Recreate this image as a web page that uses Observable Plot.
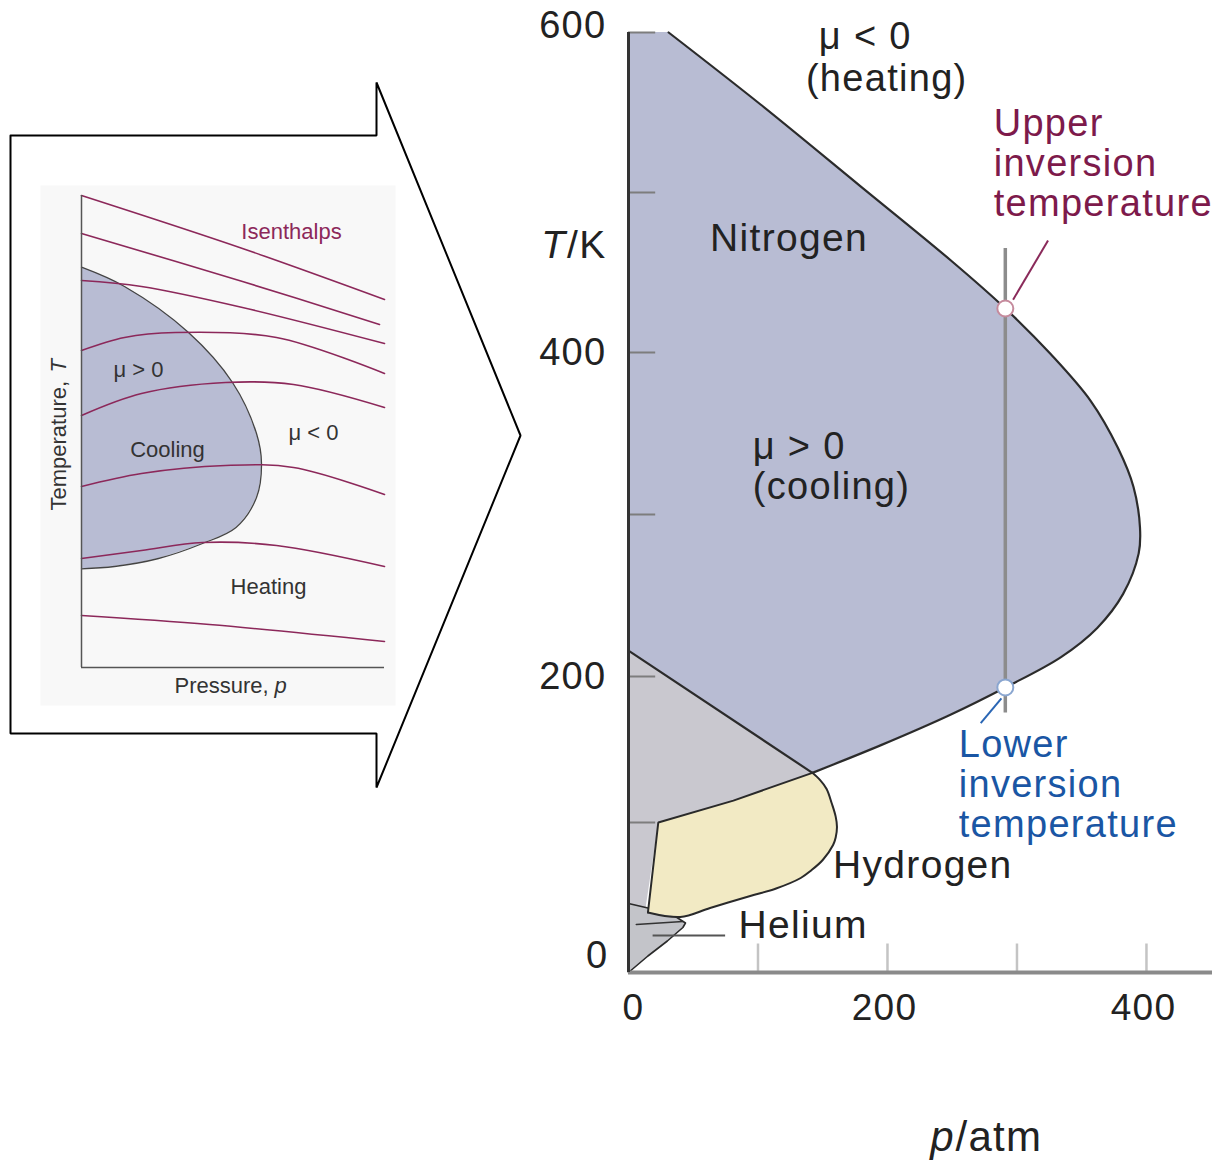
<!DOCTYPE html>
<html><head><meta charset="utf-8">
<script src="https://cdn.jsdelivr.net/npm/d3@7"></script>
<script src="https://cdn.jsdelivr.net/npm/@observablehq/plot@0.6"></script>
<style>
body{margin:0;background:#fff;}
#wrap{position:relative;width:1218px;height:1162px;overflow:hidden;background:#fff;}
#wrap svg{position:absolute;left:0;top:0;overflow:visible;}
</style></head><body><div id="wrap"></div>
<script>
// ---------- main chart data (p / atm, T / K) ----------
const tempTicks = [0, 100, 200, 300, 400, 500, 600];
const tempTickLabels = [600, 400, 200, 0];
const pressureTicks = [100, 200, 300, 400];
const pressureTickLabels = [0, 200, 400];
const nitrogenCurve = [[31,600],[102,555],[179,504],[249,457.5],[291,427.5],[326,399],[357,370],[378,341],[390,317],[395,292],[394,276],[382,251],[362,230],[334,212],[291,192.5],[249,174],[195,153],[142,134]];
const nitrogenLowerEdge = [[142,134],[0,216]];
const greyRegion = [[0,216],[142,134],[81,115],[23,100],[13,42],[0,46],[0,0]];
const hydrogenCurve = [[142,134],[148,129],[153,123],[157,113],[160,104],[161,97],[160,90],[158,85],[150,75],[141,68],[133,63],[114,56],[94,51],[63,43],[40,37],[15,40]];
const hydrogenEdges = [[15,40],[23,100],[81,115],[142,134]];
const heliumRegion = [[0,46],[15,43],[35,38],[44,33],[42,30],[30,21],[15,11],[0,0],[0,46]];
const heliumInner = [[6,32],[42,34]];
const inversionPressure = 291;
const inversionPoints = [{p:291, T:427.5, kind:"upper"}, {p:291, T:192.5, kind:"lower"}];
const leaderLines = [{p1:297,T1:433,p2:324,T2:470,kind:"upper"},{p1:288,T1:185,p2:272,T2:168,kind:"lower"}];

// ---------- inset (schematic) data, arbitrary units ----------
const coolingRegion = [[0,98.7],[33,101],[77,109],[121,124],[154.5,140],[175,170],[180,204],[175,234],[151,285],[107,335],[43,381],[0,400.3]];
const isenthalps = [
  [[0,472],[161,419],[303,368]],
  [[0,434],[161,386],[298,343]],
  [[0,387],[60,381],[161,360],[303,324]],
  [[0,317],[43,330],[94,335],[195,330],[303,294]],
  [[0,252],[60,274],[144,285],[212,283],[303,260]],
  [[0,181],[60,194],[144,202],[212,200],[303,173]],
  [[0,109],[60,117],[121,125],[195,122],[303,101]],
  [[0,52],[128,43],[303,26]]
];
const arrowOutline = [[-71,532],[295,532],[295,585],[439,232],[295,-120],[295,-66],[-71,-66],[-71,532]];

const FONT = '"Liberation Sans", Arial, Helvetica, sans-serif';
const BLUE = "#b8bcd3", GREY = "#c9c8cf", YELLOW = "#f2eac4", HELIUM = "#c3c4c9";
const CRIMSON = "#7d1a4b", NAVY = "#1a56a4", INK = "#222";
const FS = 38;

// the printed temperature axis is hand-drawn and not evenly spaced: warp T onto its tick rows
const tickRows = [972, 822, 676, 514, 352, 192, 32];
const warpT = d3.scaleLinear().domain(tempTicks).range(tickRows);

const P = d => d[0], TT = d => d[1];
const main = Plot.plot({
  width: 1218, height: 1162,
  style: {fontFamily: FONT, background: "transparent", overflow: "visible", letterSpacing: "1.3px"},
  x: {domain: [0, 451], range: [628, 1212], axis: null},
  y: {type: "linear", transform: t => warpT(t), domain: [972, 32], range: [972, 32], axis: null},
  marks: [
    Plot.areaX(nitrogenCurve, {y: TT, x1: 0, x2: P, fill: BLUE, curve: "catmull-rom"}),
    Plot.line(greyRegion, {x: P, y: TT, fill: GREY, stroke: "none"}),
    Plot.line(heliumRegion, {x: P, y: TT, fill: HELIUM, stroke: "#2a2a2a", strokeWidth: 1.6}),
    Plot.line(hydrogenCurve.concat(hydrogenEdges), {x: P, y: TT, fill: YELLOW, stroke: "none"}),
    Plot.line(hydrogenCurve, {x: P, y: TT, stroke: "#2a2a2a", strokeWidth: 2, curve: "catmull-rom"}),
    Plot.line(hydrogenEdges, {x: P, y: TT, stroke: "#2a2a2a", strokeWidth: 2, strokeLinejoin: "miter"}),
    Plot.line(heliumInner, {x: P, y: TT, stroke: "#333", strokeWidth: 1.5}),
    Plot.line(nitrogenCurve, {x: P, y: TT, stroke: "#2b2b2b", strokeWidth: 2.2, curve: "catmull-rom"}),
    Plot.line(nitrogenLowerEdge, {x: P, y: TT, stroke: "#2b2b2b", strokeWidth: 2.2}),
    Plot.ruleY(tempTicks.filter(t => t > 0), {x1: 0, x2: 21, stroke: "#7d7d7d", strokeWidth: 2}),
    Plot.ruleX(pressureTicks, {y1: 0, y2: 19, stroke: "#c4c4c4", strokeWidth: 2.5}),
    Plot.ruleY([0], {x1: 0, x2: 451, stroke: "#8a8a8a", strokeWidth: 4}),
    Plot.ruleX([0], {y1: 0, y2: 600, stroke: "#333", strokeWidth: 3}),
    Plot.ruleX([inversionPressure], {y1: 175, y2: 465, stroke: "#8c8c8c", strokeWidth: 3.5}),
    Plot.link(leaderLines, {x1: "p1", y1: "T1", x2: "p2", y2: "T2", stroke: d => d.kind === "upper" ? "#8a2a5a" : "#2a66b4", strokeWidth: 2}),
    Plot.dot(inversionPoints, {x: "p", y: "T", r: 8, fill: "white", stroke: d => d.kind === "upper" ? "#c58a9c" : "#8aa6d0", strokeWidth: 2}),
    Plot.ruleY([24.7], {x1: 19, x2: 75, stroke: "#555", strokeWidth: 2}),
    // tick labels
    Plot.text(tempTickLabels.filter(d => d === 600), {x: 0, y: d => d, text: d => String(d), textAnchor: "end", dx: -22, dy: -7, fontSize: 38, fill: INK}),
    Plot.text(tempTickLabels.filter(d => d === 400 || d === 200), {x: 0, y: d => d, text: d => String(d), textAnchor: "end", dx: -22, fontSize: 38, fill: INK}),
    Plot.text(tempTickLabels.filter(d => d === 0), {x: 0, y: d => d, text: d => String(d), textAnchor: "end", dx: -20, dy: -17, fontSize: 38, fill: INK}),
    Plot.text(pressureTickLabels.filter(d => d === 0), {x: d => d, y: -24, text: d => String(d), dx: 5, fontSize: 37, fill: INK}),
    Plot.text(pressureTickLabels.filter(d => d > 0), {x: d => d, y: -24, text: d => String(d), dx: -3, fontSize: 37, fill: INK}),
    // axis titles
    Plot.text(["T"], {x: -48, y: 467, textAnchor: "end", fontSize: 39, fontStyle: "italic", fill: INK}),
    Plot.text(["/K"], {x: -47.5, y: 467, textAnchor: "start", fontSize: 39, fill: INK}),
    Plot.text(["p"], {x: 252, y: -110, textAnchor: "end", fontSize: 42, fontStyle: "italic", fill: INK}),
    Plot.text(["/atm"], {x: 252.5, y: -110, textAnchor: "start", fontSize: 42, fill: INK}),
    // annotations
    Plot.text(["Nitrogen"], {x: 63, y: 481, textAnchor: "start", lineAnchor: "top", fontSize: 39, fill: INK}),
    Plot.text(["μ > 0\n(cooling)"], {x: 96, y: 330, textAnchor: "start", lineHeight: 1.05, fontSize: FS, fill: INK}),
    Plot.text(["μ < 0"], {x: 147, y: 597, textAnchor: "start", fontSize: FS, fill: INK}),
    Plot.text(["(heating)"], {x: 137, y: 571, textAnchor: "start", fontSize: FS, fill: INK}),
    Plot.text(["Upper\ninversion\ntemperature"], {x: 282, y: 553, textAnchor: "start", lineAnchor: "top", lineHeight: 1.05, fontSize: FS, fill: CRIMSON}),
    Plot.text(["Lower\ninversion\ntemperature"], {x: 255, y: 164, textAnchor: "start", lineAnchor: "top", lineHeight: 1.05, fontSize: FS, fill: NAVY}),
    Plot.text(["Hydrogen"], {x: 158, y: 71, textAnchor: "start", fontSize: 39, fill: INK}),
    Plot.text(["Helium"], {x: 85, y: 31, textAnchor: "start", fontSize: 39, fill: INK})
  ]
});

const isenData = isenthalps.flatMap((line, i) => line.map(([u, v]) => ({u, v, id: i})));
const inset = Plot.plot({
  width: 530, height: 800,
  marginLeft: 81, marginRight: 146, marginTop: 195, marginBottom: 133,
  style: {fontFamily: FONT, background: "transparent", overflow: "visible"},
  x: {domain: [0, 303], axis: null},
  y: {domain: [0, 472], axis: null},
  marks: [
    Plot.frame({fill: "#f8f8f8", stroke: "none", insetLeft: -41, insetRight: -11, insetTop: -10, insetBottom: -38}),
    Plot.line(arrowOutline, {x: P, y: TT, stroke: "#000", strokeWidth: 2, strokeLinejoin: "miter"}),
    Plot.areaX(coolingRegion, {y: TT, x1: 0, x2: P, fill: BLUE, curve: "catmull-rom"}),
    Plot.line(coolingRegion, {x: P, y: TT, stroke: "#444", strokeWidth: 1.3, curve: "catmull-rom"}),
    Plot.line(isenData, {x: "u", y: "v", z: "id", stroke: "#8c285a", strokeWidth: 1.6, curve: "catmull-rom"}),
    Plot.ruleX([0], {stroke: "#555", strokeWidth: 1.5}),
    Plot.ruleY([0], {stroke: "#555", strokeWidth: 1.5}),
    Plot.text(["Isenthalps"], {x: 210, y: 436, fontSize: 22, fill: "#8c285a"}),
    Plot.text(["μ > 0"], {x: 57, y: 298, fontSize: 22, fill: "#333"}),
    Plot.text(["Cooling"], {x: 86, y: 218, fontSize: 22, fill: "#333"}),
    Plot.text(["μ < 0"], {x: 232, y: 235, fontSize: 22, fill: "#333"}),
    Plot.text(["Heating"], {x: 187, y: 81, fontSize: 22, fill: "#333"}),
    Plot.text(["Pressure,"], {x: 93, y: -18, textAnchor: "start", fontSize: 22, fill: "#333"}),
    Plot.text(["p"], {x: 193, y: -18, textAnchor: "start", fontSize: 22, fontStyle: "italic", fill: "#333"}),
    Plot.text(["Temperature,"], {x: -23, y: 157, rotate: -90, textAnchor: "start", fontSize: 22, fill: "#333"}),
    Plot.text(["T"], {x: -23, y: 295, rotate: -90, textAnchor: "start", fontSize: 22, fontStyle: "italic", fill: "#333"})
  ]
});

const wrap = document.getElementById("wrap");
wrap.appendChild(main);
wrap.appendChild(inset);
</script></body></html>
